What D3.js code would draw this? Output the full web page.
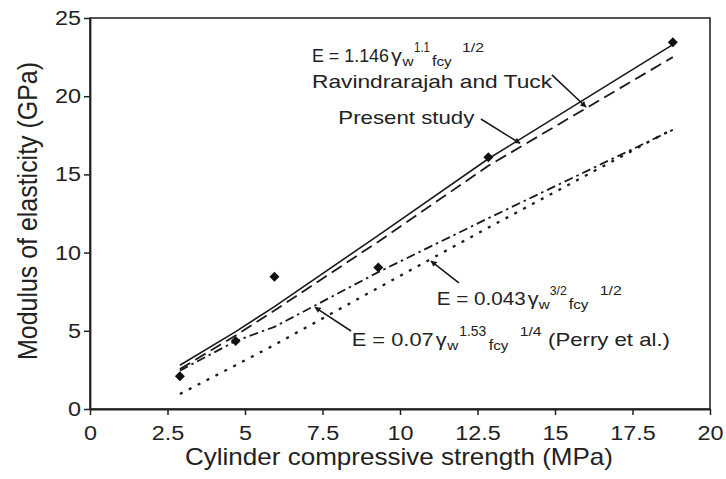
<!DOCTYPE html>
<html>
<head>
<meta charset="utf-8">
<script src="https://cdn.jsdelivr.net/npm/d3@7"></script>
<style>
  html, body { margin: 0; padding: 0; background: #fff; }
  svg { display: block; }
  text { font-family: "Liberation Sans", Arial, Helvetica, sans-serif; fill: #222; }
</style>
</head>
<body>
<svg id="chart" width="726" height="479"></svg>
<script>
// Cylinder compressive strength of each mix (MPa)
const strength = [2.9, 4.7, 5.95, 9.3, 12.85, 18.8];
// Measured modulus of elasticity (GPa)
const measuredModulus = [2.1, 4.35, 8.45, 9.05, 16.1, 23.45];
// Modulus predicted by each expression for the same mixes (GPa)
const presentStudy = [2.8, 4.95, 6.55, 11.1, 16.0, 23.3];
const ravindrarajahTuck = [2.55, 4.7, 6.3, 10.7, 15.55, 22.5];
const perryEtAl = [2.45, 4.35, 5.25, 8.75, 12.2, 17.85];
const formula043 = [0.96, 2.8, 4.1, 7.75, 11.6, 17.9];
// Axis ticks
const xTicks = [0, 2.5, 5, 7.5, 10, 12.5, 15, 17.5, 20];
const yTicks = [0, 5, 10, 15, 20, 25];

const svg = d3.select("#chart");
const x = d3.scaleLinear().domain([0, 20]).range([90, 710]);
const y = d3.scaleLinear().domain([0, 25]).range([409, 18]);
const SX = 1.17; // glyphs are drawn slightly wide

function widen(sel, factor) {
  sel.each(function () {
    const w = this.getComputedTextLength();
    d3.select(this).attr("textLength", w * factor).attr("lengthAdjust", "spacingAndGlyphs");
  });
}

// Plot frame
svg.append("rect")
  .attr("x", x(0)).attr("y", y(25))
  .attr("width", x(20) - x(0)).attr("height", y(0) - y(25))
  .attr("fill", "none").attr("stroke", "#2a2a2a").attr("stroke-width", 1.6);

// Axes
const xAxis = svg.append("g")
  .attr("transform", `translate(0,${y(0)})`)
  .attr("color", "#222")
  .call(d3.axisBottom(x).tickValues(xTicks).tickFormat(d3.format("~g"))
    .tickSize(6).tickSizeOuter(0).tickPadding(11));
xAxis.select(".domain").attr("stroke-width", 1.8);
xAxis.selectAll(".tick line").attr("stroke-width", 1.5);
xAxis.selectAll("text").attr("font-size", 20);
widen(xAxis.selectAll("text"), SX);

const yAxis = svg.append("g")
  .attr("transform", `translate(${x(0)},0)`)
  .attr("color", "#222")
  .call(d3.axisLeft(y).tickValues(yTicks).tickFormat(d3.format("~g"))
    .tickSize(6).tickSizeOuter(0).tickPadding(3));
yAxis.select(".domain").attr("stroke-width", 1.8);
yAxis.selectAll(".tick line").attr("stroke-width", 1.5);
yAxis.selectAll("text").attr("font-size", 20);
widen(yAxis.selectAll("text"), SX);

// Axis titles
svg.append("text")
  .attr("x", 399).attr("y", 465)
  .attr("text-anchor", "middle").attr("font-size", 24)
  .attr("textLength", 428).attr("lengthAdjust", "spacingAndGlyphs")
  .text("Cylinder compressive strength (MPa)");

svg.append("text")
  .attr("transform", "translate(37,211) scale(1.17,1) rotate(-90)")
  .attr("text-anchor", "middle").attr("font-size", 24)
  .attr("textLength", 298).attr("lengthAdjust", "spacingAndGlyphs")
  .text("Modulus of elasticity (GPa)");

// Curves
const line = d3.line().x((d, i) => x(strength[i])).y(d => y(d));
const curves = [
  { values: formula043, dash: "3,7", width: 2.3 },
  { values: perryEtAl, dash: "9,4,2.5,4", width: 1.8 },
  { values: ravindrarajahTuck, dash: "12,6", width: 1.8 },
  { values: presentStudy, dash: null, width: 1.6 }
];
svg.append("g").selectAll("path")
  .data(curves).join("path")
  .attr("d", d => line(d.values))
  .attr("fill", "none")
  .attr("stroke", "#1a1a1a")
  .attr("stroke-width", d => d.width)
  .attr("stroke-dasharray", d => d.dash);

// Measured points
const diamond = d3.symbol().type(d3.symbolSquare).size(50);
svg.append("g").selectAll("path")
  .data(measuredModulus).join("path")
  .attr("transform", (d, i) => `translate(${x(strength[i])},${y(d)}) rotate(45)`)
  .attr("d", diamond)
  .attr("fill", "#111");

// Leader arrows (data units)
svg.append("defs").append("marker")
  .attr("id", "tip")
  .attr("viewBox", "0 0 10 10")
  .attr("refX", 9).attr("refY", 5)
  .attr("markerWidth", 7).attr("markerHeight", 6)
  .attr("markerUnits", "userSpaceOnUse")
  .attr("orient", "auto")
  .append("path").attr("d", "M0,0 L10,5 L0,10 Z").attr("fill", "#1a1a1a");

const leaders = [
  { from: [14.9, 21.36], to: [16.0, 19.31] },
  { from: [12.61, 18.54], to: [13.87, 16.99] },
  { from: [11.9, 8.06], to: [11.0, 9.46] },
  { from: [8.42, 4.99], to: [7.26, 6.5] }
];
svg.append("g").selectAll("line")
  .data(leaders).join("line")
  .attr("x1", d => x(d.from[0])).attr("y1", d => y(d.from[1]))
  .attr("x2", d => x(d.to[0])).attr("y2", d => y(d.to[1]))
  .attr("stroke", "#1a1a1a").attr("stroke-width", 1.6)
  .attr("marker-end", "url(#tip)");

// Labels made of runs: [text, dx, dy, size, length]
function richLabel(at, runs) {
  const g = svg.append("g").attr("transform", `translate(${x(at[0])},${y(at[1])})`);
  runs.forEach(([t, dx, dy, size, len]) => {
    const el = g.append("text").attr("x", dx).attr("y", dy).attr("font-size", size).text(t);
    const w = el.node().getComputedTextLength();
    el.attr("textLength", len || w * SX).attr("lengthAdjust", "spacingAndGlyphs");
  });
}

richLabel([7.161, 22.19], [
  ["E = 1.146", 0, 0, 18.5, 77],
  ["γ", 79, 0, 18.5],
  ["w", 90.5, 4, 13],
  ["1.1", 102, -9.5, 14, 16],
  ["f", 120, 4.5, 14],
  ["cy", 124.5, 4.5, 13],
  ["1/2", 150, -9.5, 13.5]
]);
richLabel([7.161, 20.505], [["Ravindrarajah and Tuck", 0, 0, 18.5, 240]]);
richLabel([8.01, 18.22], [["Present study", 0, 0, 18.5, 136]]);
richLabel([11.184, 6.68], [
  ["E = 0.043", 0, 0, 18.5, 89],
  ["γ", 91, 0, 18.5],
  ["w", 102, 4, 13],
  ["3/2", 113, -9.5, 13.5, 17],
  ["f", 132, 4.5, 14],
  ["cy", 136.5, 4.5, 13],
  ["1/2", 163, -9.5, 13.5]
]);
richLabel([8.442, 4.03], [
  ["E = 0.07", 0, 0, 18.5, 82],
  ["γ", 84, 0, 18.5],
  ["w", 95.5, 4, 13],
  ["1.53", 107.5, -9.5, 14, 27],
  ["f", 137, 4.5, 14],
  ["cy", 141.5, 4.5, 13],
  ["1/4", 168, -9.5, 13.5],
  ["(Perry et al.)", 196.3, 0, 18.5, 122]
]);
</script>
</body>
</html>
